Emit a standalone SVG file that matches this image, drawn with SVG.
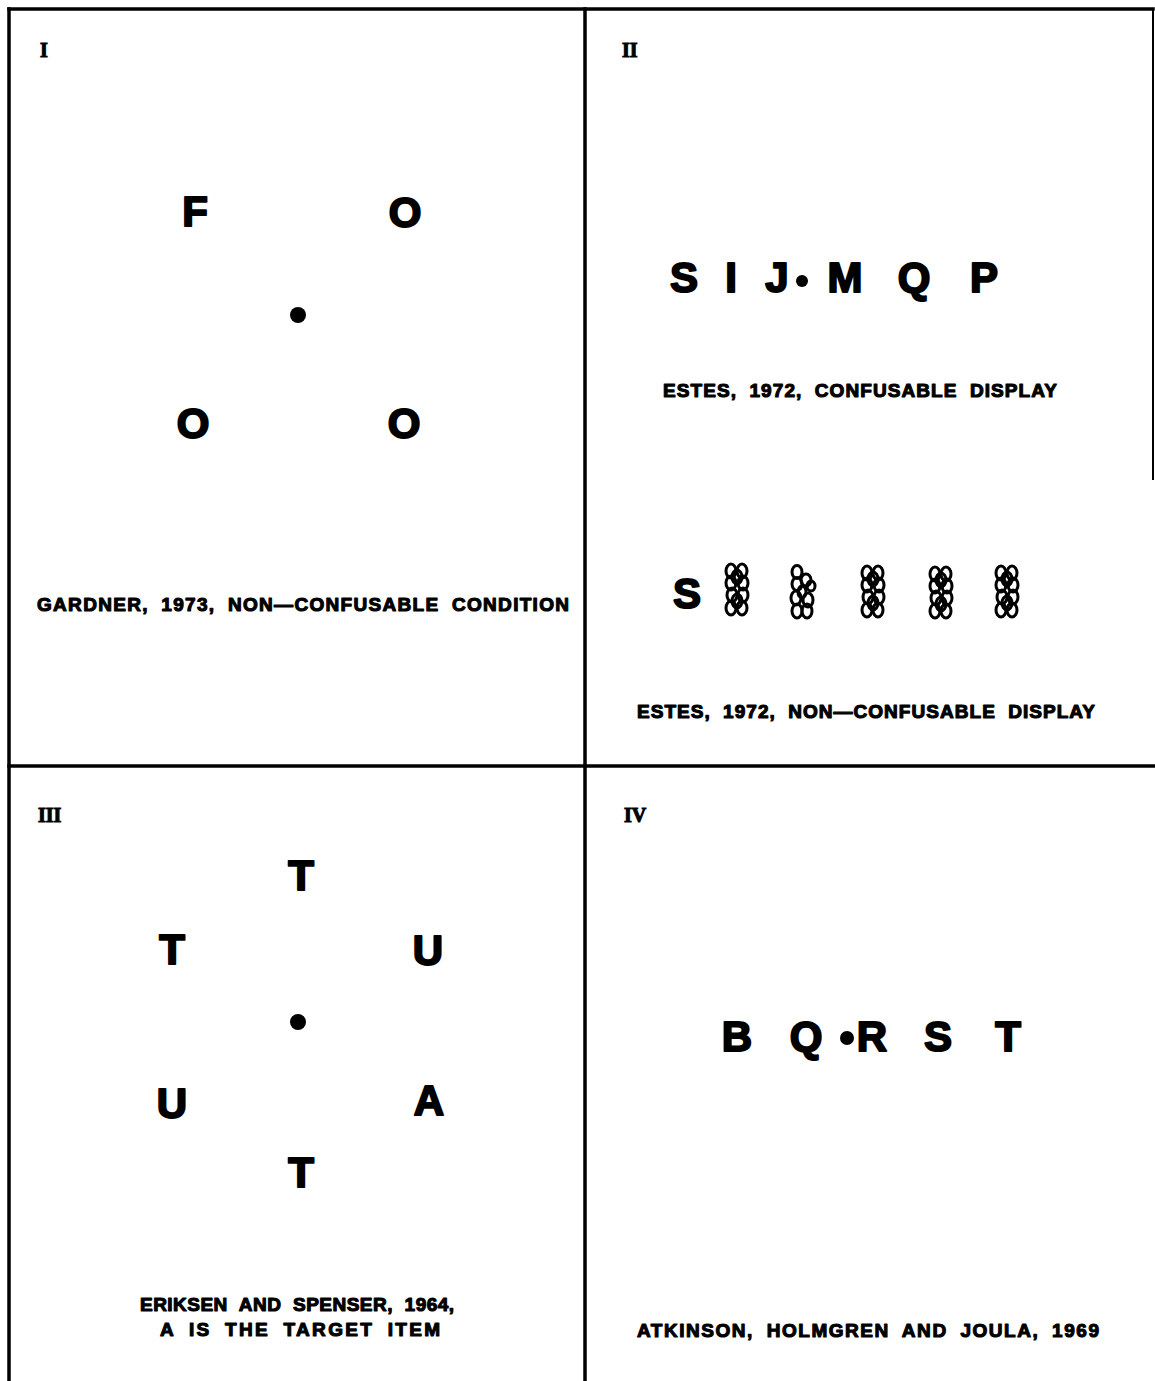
<svg xmlns="http://www.w3.org/2000/svg" xmlns:xlink="http://www.w3.org/1999/xlink" width="1155" height="1381" viewBox="0 0 1155 1381">
<style>
.frame{stroke:#000;stroke-width:3.5;fill:none;stroke-linecap:square}
.big{font-family:"Liberation Sans",Arial,sans-serif;font-weight:bold;font-size:42px;text-anchor:middle;fill:#000;stroke:#000;stroke-width:2;stroke-linejoin:round}
.cap{font-family:"Liberation Sans",Arial,sans-serif;font-weight:bold;font-size:19px;word-spacing:6px;text-anchor:middle;fill:#000;stroke:#000;stroke-width:1.1;stroke-linejoin:round}
.num{font-family:"Liberation Serif","Times New Roman",serif;font-weight:bold;font-size:20px;fill:#000;stroke:#000;stroke-width:1}
.dot{fill:#000}
.ov{fill:none;stroke:#000;stroke-width:3}
</style>
<defs>
<g id="clA">
<ellipse class="ov" cx="-6" cy="-19" rx="5" ry="7"/><ellipse class="ov" cx="5" cy="-19" rx="5" ry="7"/>
<ellipse class="ov" cx="-6" cy="-7" rx="5" ry="7"/><ellipse class="ov" cx="6" cy="-7" rx="5" ry="7"/>
<ellipse class="ov" cx="-5" cy="5" rx="5" ry="7"/><ellipse class="ov" cx="6" cy="5" rx="5" ry="7"/>
<ellipse class="ov" cx="-6" cy="18" rx="5" ry="7"/><ellipse class="ov" cx="5" cy="18" rx="5" ry="7"/>
<ellipse class="ov" cx="0" cy="-13" rx="5" ry="7"/><ellipse class="ov" cx="0" cy="11" rx="5" ry="7"/>
</g>
<g id="clB">
<ellipse class="ov" cx="-5" cy="-20" rx="5" ry="6.5"/><ellipse class="ov" cx="4" cy="-12" rx="5" ry="6"/>
<ellipse class="ov" cx="-5" cy="-8" rx="5" ry="6.5"/><ellipse class="ov" cx="9" cy="-6" rx="4" ry="5"/>
<ellipse class="ov" cx="-6" cy="6" rx="5" ry="7"/><ellipse class="ov" cx="6" cy="8" rx="5" ry="7"/>
<ellipse class="ov" cx="-5" cy="19" rx="5" ry="7"/><ellipse class="ov" cx="5" cy="19" rx="5" ry="7"/>
<ellipse class="ov" cx="0" cy="0" rx="4" ry="6"/>
</g>
</defs>

<g id="connectors">
<line class="frame" x1="9" y1="9" x2="1153" y2="9"/>
<line class="frame" x1="9" y1="9" x2="9" y2="1381"/>
<line class="frame" x1="585" y1="9" x2="585" y2="1381"/>
<line class="frame" x1="9" y1="766" x2="1155" y2="766"/>
<line x1="1153" y1="9" x2="1153" y2="480" stroke="#000" stroke-width="2"/>
</g>

<g id="panel-1">
<text class="num" x="40" y="57">I</text>
<text class="big" x="195" y="226">F</text>
<text class="big" x="405" y="227">O</text>
<circle class="dot" cx="298" cy="315" r="8"/>
<text class="big" x="193" y="438">O</text>
<text class="big" x="404" y="438">O</text>
<text class="cap" x="303" y="611" textLength="532" lengthAdjust="spacing">GARDNER, 1973, NON—CONFUSABLE CONDITION</text>
</g>

<g id="panel-2">
<text class="num" x="622" y="57">II</text>
<text class="big" x="684" y="292">S</text>
<text class="big" x="731" y="292">I</text>
<text class="big" x="777" y="292">J</text>
<circle class="dot" cx="802" cy="281" r="6"/>
<text class="big" x="845" y="292">M</text>
<text class="big" x="914" y="292">Q</text>
<text class="big" x="984" y="292">P</text>
<text class="cap" x="860" y="397" textLength="394" lengthAdjust="spacing">ESTES, 1972, CONFUSABLE DISPLAY</text>
<text class="big" x="687" y="608">S</text>
<use xlink:href="#clA" x="737" y="590"/>
<use xlink:href="#clB" x="802" y="592"/>
<use xlink:href="#clA" x="873" y="592"/>
<use xlink:href="#clA" x="941" y="593"/>
<use xlink:href="#clA" x="1007" y="592"/>
<text class="cap" x="866" y="718" textLength="458" lengthAdjust="spacing">ESTES, 1972, NON—CONFUSABLE DISPLAY</text>
</g>

<g id="panel-3">
<text class="num" x="38" y="822">III</text>
<text class="big" x="301" y="890">T</text>
<text class="big" x="172" y="964">T</text>
<text class="big" x="428" y="965">U</text>
<circle class="dot" cx="298" cy="1022" r="8"/>
<text class="big" x="172" y="1118">U</text>
<text class="big" x="429" y="1115">A</text>
<text class="big" x="301" y="1187">T</text>
<text class="cap" x="297" y="1311" textLength="314" lengthAdjust="spacing">ERIKSEN AND SPENSER, 1964,</text>
<text class="cap" x="300" y="1336" textLength="280" lengthAdjust="spacing">A IS THE TARGET ITEM</text>
</g>

<g id="panel-4">
<text class="num" x="624" y="822">IV</text>
<text class="big" x="737" y="1051">B</text>
<text class="big" x="806" y="1051">Q</text>
<circle class="dot" cx="847" cy="1038" r="7"/>
<text class="big" x="872" y="1051">R</text>
<text class="big" x="938" y="1051">S</text>
<text class="big" x="1008" y="1051">T</text>
<text class="cap" x="868" y="1337" textLength="462" lengthAdjust="spacing">ATKINSON, HOLMGREN AND JOULA, 1969</text>
</g>
</svg>
